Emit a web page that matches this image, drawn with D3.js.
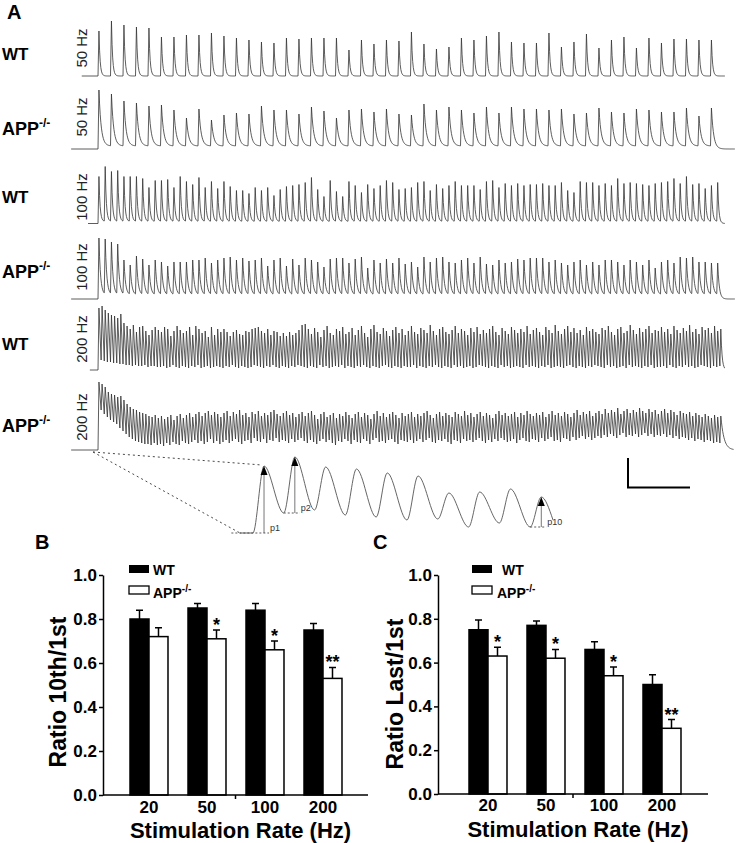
<!DOCTYPE html>
<html>
<head>
<meta charset="utf-8">
<script src="https://cdn.jsdelivr.net/npm/d3@7"></script>
<style>
body { margin: 0; background: #fff; }
svg { display: block; font-family: "Liberation Sans", Arial, sans-serif; }
</style>
</head>
<body>
<svg class="chart"></svg>
<script>
var width = 736,
    height = 843;

// ---- panel A: peak amplitude of every response in the 1 s train (arbitrary dF units)
var wt50Peaks = [45,55,51,49,48,39,39,41,41,43,40,
  38,36,34,33,38,37,38,38,38,26,36,32,36,35,44,32,27,29,38,36,40,44,
  34,33,33,43,29,34,42,28,36,39,28,38,33,37,37,36,36];
var app50Peaks = [59,55,48,46,43,44,39,31,40,29,34,
  36,35,43,39,39,35,42,38,31,39,40,37,40,35,34,45,39,42,39,36,42,36,
  42,40,40,39,40,35,36,41,37,36,40,39,37,37,41,33,41];
var wt100Peaks = [47,57,52,53,47,47,47,45,36,43,43,44,36,47,42,39,46,36,42,35,42,37,
  33,33,30,36,33,36,28,34,37,38,39,41,46,34,27,43,32,27,42,38,31,39,35,38,43,41,
  34,35,36,41,42,33,39,35,38,42,38,38,38,34,42,43,36,40,38,40,
  38,39,39,40,38,38,41,33,31,42,41,41,38,40,38,45,40,41,40,39,38,40,41,42,45,40,
  47,39,40,35,38,41];
var app100Peaks = [61,60,57,55,39,34,43,40,34,39,37,33,37,37,37,39,39,41,36,39,41,42,
  39,41,38,39,41,33,39,41,33,40,34,41,39,37,32,40,41,41,36,40,42,31,39,36,40,36,
  41,35,37,32,42,37,41,42,37,36,39,41,36,42,35,34,39,36,37,40,
  39,41,41,41,37,39,36,34,37,39,34,37,34,39,39,37,34,39,37,34,39,31,37,39,36,42,
  41,42,37,37,36,36];
var wt200Peaks = [
  62,64,60,57,55,54,52,56,47,44,41,45,38,43,44,39,35,40,43,40,
  38,43,41,34,39,44,40,37,39,43,35,44,41,37,39,33,43,35,41,38,
  41,38,34,38,40,36,35,39,38,41,42,43,39,37,41,35,39,38,34,37,
  34,38,35,37,40,45,46,41,36,42,38,33,40,44,37,35,41,39,43,36,
  38,42,35,40,44,37,33,41,45,38,36,42,39,34,40,43,37,41,35,39,
  44,38,36,42,40,37,45,39,35,41,43,38,36,40,44,37,41,39,35,42,
  38,43,36,40,37,41,44,38,35,42,39,36,43,40,37,41,38,44,36,40,
  42,38,35,43,40,37,45,39,36,41,44,38,42,37,40,35,43,39,41,38,
  36,42,40,44,38,35,41,43,37,39,45,40,36,42,38,41,44,37,40,39,
  43,38,41,36,44,40,37,42,39,45,38,41,36,43,40,42,37,44,39,41];
var wt200Troughs = [
  0,10,9,8,8,7,7,6,6,5,5,4,5,4,4,5,3,4,4,3,
  3,4,2,3,5,3,2,4,3,2,4,3,5,2,3,4,2,3,4,3,
  2,4,3,5,3,2,4,3,2,3,5,4,3,2,4,3,5,3,2,4,
  3,2,4,3,5,4,3,2,4,3,2,5,3,4,2,3,4,3,5,2,
  4,3,2,4,3,5,3,2,4,3,2,4,5,3,2,4,3,2,4,3,
  3,5,2,4,3,2,4,3,5,3,2,4,3,2,5,3,4,2,3,4,
  2,3,5,4,3,2,4,3,2,5,3,4,2,3,4,3,2,5,3,4,
  3,2,4,3,5,2,3,4,3,2,4,5,3,2,4,3,2,4,3,5,
  4,3,2,5,3,4,2,3,4,2,5,3,4,3,2,4,3,5,2,3,
  3,4,2,5,3,2,4,3,5,3,4,2,3,5,4,3,2,4,3,4];
var app200Peaks = [
  68,66,63,58,56,55,53,54,50,46,43,41,40,38,37,36,34,33,35,32,
  34,31,33,35,30,34,36,32,35,37,33,36,38,34,37,39,35,38,36,33,
  37,39,34,38,36,40,35,37,33,38,36,39,34,37,35,38,40,36,34,37,
  39,35,37,33,36,38,34,37,39,35,31,36,38,33,35,37,32,36,34,38,
  35,32,36,38,33,37,35,31,36,39,34,37,33,36,38,35,32,37,34,36,
  38,33,36,34,37,39,35,32,36,38,34,37,35,33,38,36,34,39,35,37,
  33,36,38,34,37,35,32,36,39,35,37,34,36,38,33,37,35,39,36,34,
  37,35,38,33,36,39,35,37,34,38,36,33,37,40,35,38,36,39,34,37,
  39,36,41,37,40,38,42,36,39,41,37,40,38,42,39,37,41,38,40,36,
  39,41,37,40,38,35,39,37,36,38,34,37,35,33,36,34,32,35,33,34];
var app200Troughs = [
  0,40,36,33,30,28,26,22,19,16,13,11,9,8,7,6,6,5,7,5,
  6,4,7,5,8,6,5,9,7,6,8,10,7,9,6,8,11,7,9,6,
  8,10,7,9,11,8,6,9,10,7,12,9,8,11,7,10,9,12,8,10,
  9,7,11,8,10,12,9,7,10,8,6,9,11,8,10,7,5,9,8,11,
  9,6,10,8,7,11,9,6,10,12,8,9,7,10,11,8,6,10,9,8,
  10,7,9,11,8,10,12,8,7,10,9,11,8,6,10,9,7,11,9,10,
  8,10,12,9,7,10,8,11,9,12,10,8,9,11,7,10,12,9,8,11,
  10,8,12,9,11,13,9,10,8,12,11,9,13,10,12,14,11,13,10,12,
  14,12,15,13,16,14,12,15,17,13,15,14,16,13,15,17,14,16,13,15,
  14,16,13,15,12,14,11,13,12,10,12,9,11,10,8,10,9,7,8,7];

var rowLabels = ["WT", "APP", "WT", "APP", "WT", "APP"];
var rateLabels = ["50 Hz", "50 Hz", "100 Hz", "100 Hz", "200 Hz", "200 Hz"];

// expanded view of the first 10 responses at 200 Hz (APP-/-)
var insetPeaks = [67, 76, 66, 64, 60, 57, 40, 41, 44, 36];
var insetTroughs = [0, 20, 23, 18, 16, 13, 14, 6, 10, 6];
var insetEnd = 13;
var insetMarks = [{i: 0, label: "p1"}, {i: 1, label: "p2"}, {i: 9, label: "p10"}];

// ---- panels B and C
var rates = ["20", "50", "100", "200"];
var genotypes = ["WT", "APP"];
var tenthWT = [0.80, 0.85, 0.84, 0.75],
    tenthWTErr = [0.04, 0.02, 0.03, 0.03];
var tenthAPP = [0.72, 0.71, 0.66, 0.53],
    tenthAPPErr = [0.04, 0.04, 0.04, 0.05];
var tenthStars = ["", "*", "*", "**"];
var lastWT = [0.75, 0.77, 0.66, 0.50],
    lastWTErr = [0.045, 0.02, 0.035, 0.045];
var lastAPP = [0.63, 0.62, 0.54, 0.30],
    lastAPPErr = [0.04, 0.04, 0.04, 0.04];
var lastStars = ["*", "*", "*", "**"];
var yTicks = [0, 0.2, 0.4, 0.6, 0.8, 1.0];

var svg = d3.select(".chart")
    .attr("width", width)
    .attr("height", height);

svg.append("rect").attr("width", width).attr("height", height).attr("fill", "#fff");

// ================= panel A
svg.append("text").attr("x", 7).attr("y", 19)
    .style("font-size", "20px").style("font-weight", "bold").text("A");

var traces = [
  {peaks: wt50Peaks, hz: 50, floor: 0, tau: 1.8, start: -0.026, end: 1.003, base: 76, labelY: 60, hzY: 48},
  {peaks: app50Peaks, hz: 50, floor: 3, tau: 3.5, start: -0.043, end: 1.019, base: 149, labelY: 135, hzY: 117},
  {peaks: wt100Peaks, hz: 100, floor: 2, tau: 1.8, start: -0.016, end: 1.003, base: 223.5, labelY: 203, hzY: 197},
  {peaks: app100Peaks, hz: 100, floor: 4, tau: 2.5, start: -0.043, end: 1.019, base: 299, labelY: 278, hzY: 267},
  {peaks: wt200Peaks, troughs: wt200Troughs, hz: 200, tau: 2, start: -0.013, end: 1.003, base: 370, labelY: 350, hzY: 339},
  {peaks: app200Peaks, troughs: app200Troughs, hz: 200, tau: 5, start: -0.043, end: 1.017, base: 450, labelY: 432, hzY: 417}
];

var x = d3.scaleLinear().domain([0, 1]).range([98, 723]);

function tracePoints(tr) {
  var pts = [[tr.start, 0], [0, 0]];
  var n = tr.peaks.length, isi = 1 / tr.hz, rise = 0.0015, v = 0;
  for (var i = 0; i < n; i++) {
    var t0 = i * isi, pk = tr.peaks[i], last = i === n - 1;
    if (tr.troughs) v = tr.troughs[i];
    pts.push([t0, v]);
    pts.push([t0 + rise, pk]);
    v = pk;
    if (tr.troughs && !last) continue;
    var tEnd = last ? tr.end : t0 + isi,
        floor = last ? 0 : tr.floor;
    for (var dt = 0.001; t0 + rise + dt < tEnd; dt += 0.001) {
      v = floor + (pk - floor) * Math.exp(-dt * 1000 / tr.tau);
      pts.push([t0 + rise + dt, v]);
    }
  }
  pts.push([tr.end, v]);
  return pts;
}

traces.forEach(function(tr, k) {
  var y = d3.scaleLinear().domain([0, 100]).range([tr.base, tr.base - 100]);
  tr.y = y;
  var line = d3.line()
      .x(function(d) { return x(d[0]); })
      .y(function(d) { return y(d[1]); });
  svg.append("path")
      .attr("d", line(tracePoints(tr)))
      .attr("fill", "none")
      .attr("stroke", "#333")
      .attr("stroke-width", 0.8)
      .attr("stroke-linejoin", "round");

  var lab = svg.append("text").attr("x", 2).attr("y", tr.labelY)
      .style("font-weight", "bold")
      .style("font-size", rowLabels[k] === "WT" ? "17px" : "18px")
      .text(rowLabels[k]);
  if (rowLabels[k] === "APP") {
    lab.append("tspan").attr("dy", -8).style("font-size", "12px").text("-/-");
  }

  svg.append("text")
      .attr("transform", "translate(87," + tr.hzY + ") rotate(-90)")
      .attr("text-anchor", "middle")
      .style("font-size", "15px")
      .attr("fill", "#222")
      .text(rateLabels[k]);
});

// inset
var ix = d3.scaleLinear().domain([-2.1, 48.7]).range([240, 553]);
var iy = d3.scaleLinear().domain([0, 67]).range([533, 466]);
var insetPts = [[-2.1, 0], [0, 0]];
insetPeaks.forEach(function(p, i) {
  if (i > 0) insetPts.push([5 * i, insetTroughs[i]]);
  insetPts.push([5 * i + 1.8, p]);
});
insetPts.push([48.7, insetEnd]);

svg.append("path")
    .attr("d", d3.line().curve(d3.curveMonotoneX)
      .x(function(d) { return ix(d[0]); })
      .y(function(d) { return iy(d[1]); })(insetPts))
    .attr("fill", "none").attr("stroke", "#555").attr("stroke-width", 0.9);

// dotted connectors from the start of the APP-/- 200 Hz trace
var app200 = traces[5];
[[1.45, 68], [-2.1, 0]].forEach(function(e) {
  svg.append("line")
      .attr("x1", x(-0.008)).attr("y1", app200.y(-2))
      .attr("x2", ix(e[0])).attr("y2", iy(e[1]))
      .attr("stroke", "#333").attr("stroke-width", 0.9)
      .attr("stroke-dasharray", "2,3");
});

insetMarks.forEach(function(m) {
  var px = ix(5 * m.i + 1.8),
      yb = iy(insetTroughs[m.i]),
      yt = iy(insetPeaks[m.i]);
  svg.append("line").attr("x1", px).attr("x2", px)
      .attr("y1", yb).attr("y2", yt + 8)
      .attr("stroke", "#777").attr("stroke-width", 1);
  svg.append("path")
      .attr("d", "M" + px + "," + yt + "L" + (px - 3.5) + "," + (yt + 9) + "L" + (px + 3.5) + "," + (yt + 9) + "Z")
      .attr("fill", "#000");
  svg.append("line")
      .attr("x1", m.i === 0 ? ix(-3.5) : ix(5 * m.i)).attr("x2", px + 5)
      .attr("y1", yb).attr("y2", yb)
      .attr("stroke", "#333").attr("stroke-width", 0.8)
      .attr("stroke-dasharray", "2,2");
  svg.append("text").attr("x", px + 6).attr("y", yb - 2)
      .style("font-size", "9px").attr("fill", "#333")
      .text(m.label);
});

// scale bar
svg.append("path").attr("d", "M628,458V487.5H690")
    .attr("fill", "none").attr("stroke", "#000").attr("stroke-width", 2);

// ================= panels B and C
function barPanel(o) {
  var g = svg.append("g");
  var y = d3.scaleLinear().domain([0, 1]).range([o.y0, o.y1]);
  var xb = d3.scaleBand().domain(rates).range(o.band).paddingInner(0.345).paddingOuter(0.1725);
  var xs = d3.scaleBand().domain(genotypes).range([0, xb.bandwidth()]);

  var rows = rates.map(function(r, i) {
    return [
      {rate: r, g: "WT", v: o.wt[i], e: o.wtErr[i], star: ""},
      {rate: r, g: "APP", v: o.app[i], e: o.appErr[i], star: o.stars[i]}
    ];
  });

  var grp = g.selectAll(".grp").data(rows)
    .enter().append("g")
      .attr("transform", function(d) { return "translate(" + xb(d[0].rate) + ",0)"; });

  var bar = grp.selectAll("g").data(function(d) { return d; })
    .enter().append("g");

  bar.append("path")
      .attr("d", function(d) {
        var cx = xs(d.g) + xs.bandwidth() / 2, top = y(d.v + d.e);
        return "M" + cx + "," + y(d.v) + "V" + top + "M" + (cx - 3.5) + "," + top + "H" + (cx + 3.5);
      })
      .attr("stroke", "#000").attr("stroke-width", 1.5).attr("fill", "none");

  bar.append("rect")
      .attr("x", function(d) { return xs(d.g); })
      .attr("y", function(d) { return y(d.v); })
      .attr("width", xs.bandwidth())
      .attr("height", function(d) { return y(0) - y(d.v); })
      .attr("fill", function(d) { return d.g === "WT" ? "#000" : "#fff"; })
      .attr("stroke", "#000").attr("stroke-width", 1.5);

  bar.append("text")
      .attr("x", function(d) { return xs(d.g) + xs.bandwidth() / 2; })
      .attr("y", function(d) { return y(d.v + d.e) + 1; })
      .attr("text-anchor", "middle")
      .style("font-size", "18px").style("font-weight", "bold")
      .text(function(d) { return d.star; });

  // y axis
  var ya = g.append("g").attr("transform", "translate(" + o.ax0 + ",0)")
      .call(d3.axisLeft(y).tickValues(yTicks).tickFormat(d3.format(".1f")).tickSize(4).tickSizeOuter(0).tickPadding(2));
  ya.select(".domain").attr("stroke-width", 1.5);
  ya.selectAll(".tick line").attr("stroke-width", 1.5);
  ya.selectAll(".tick text").attr("fill", "#000")
      .style("font-size", "17px").style("font-weight", "bold")
      .style("font-family", "'Liberation Sans', Arial, sans-serif");

  // x axis
  g.append("line").attr("x1", o.ax0).attr("x2", o.ax1).attr("y1", y(0)).attr("y2", y(0))
      .attr("stroke", "#000").attr("stroke-width", 1.5);
  g.append("line").attr("x1", (o.ax0 + o.ax1) / 2).attr("x2", (o.ax0 + o.ax1) / 2)
      .attr("y1", y(0)).attr("y2", y(0) + 4)
      .attr("stroke", "#000").attr("stroke-width", 1.5);
  g.selectAll(".xl").data(rates).enter().append("text")
      .attr("x", function(d) { return xb(d) + xb.bandwidth() / 2; })
      .attr("y", o.tickY)
      .attr("text-anchor", "middle")
      .style("font-size", "17px").style("font-weight", "bold")
      .text(function(d) { return d; });

  g.append("text").attr("x", (o.ax0 + o.ax1) / 2 + 5).attr("y", o.titleY)
      .attr("text-anchor", "middle")
      .style("font-size", "22px").style("font-weight", "bold")
      .text("Stimulation Rate (Hz)");

  g.append("text")
      .attr("transform", "translate(" + o.yTitleX + "," + o.yTitleY + ") rotate(-90)")
      .attr("text-anchor", "middle")
      .style("font-size", "23px").style("font-weight", "bold")
      .text(o.yTitle);

  g.append("text").attr("x", o.letterX).attr("y", 549)
      .style("font-size", "20px").style("font-weight", "bold").text(o.letter);

  // legend
  g.append("rect").attr("x", o.legX).attr("y", 565).attr("width", 20).attr("height", 8)
      .attr("fill", "#000");
  g.append("rect").attr("x", o.legX).attr("y", 586).attr("width", 20).attr("height", 8)
      .attr("fill", "#fff").attr("stroke", "#000").attr("stroke-width", 1.3);
  g.append("text").attr("x", o.legWT).attr("y", 575)
      .style("font-size", "14px").style("font-weight", "bold").text("WT");
  g.append("text").attr("x", o.legAPP).attr("y", 598)
      .style("font-size", "14px").style("font-weight", "bold").text("APP")
    .append("tspan").attr("dy", -6).style("font-size", "10px").text("-/-");
}

barPanel({
  letter: "B", letterX: 35,
  wt: tenthWT, wtErr: tenthWTErr, app: tenthAPP, appErr: tenthAPPErr, stars: tenthStars,
  y0: 795, y1: 575, ax0: 103, ax1: 368, band: [120, 352],
  tickY: 813, titleY: 838, yTitle: "Ratio 10th/1st", yTitleX: 66, yTitleY: 692,
  legX: 129, legWT: 153, legAPP: 153
});

barPanel({
  letter: "C", letterX: 373,
  wt: lastWT, wtErr: lastWTErr, app: lastAPP, appErr: lastAPPErr, stars: lastStars,
  y0: 794, y1: 575, ax0: 438, ax1: 708, band: [459, 691],
  tickY: 811, titleY: 837, yTitle: "Ratio Last/1st", yTitleX: 403, yTitleY: 694,
  legX: 472, legWT: 502, legAPP: 497
});
</script>
</body>
</html>
